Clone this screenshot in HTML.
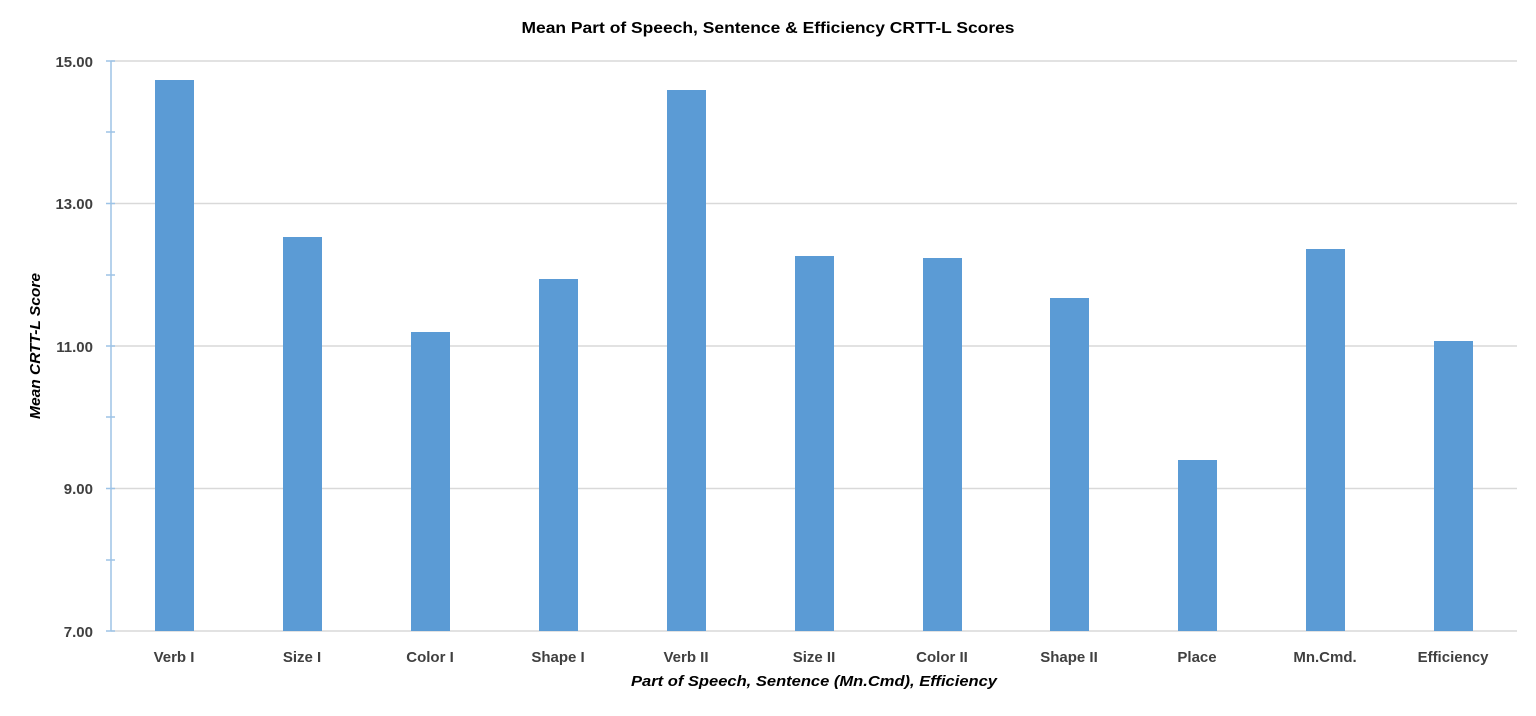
<!DOCTYPE html>
<html><head><meta charset="utf-8"><style>
html,body{margin:0;padding:0;background:#fff;}
svg{display:block;font-family:"Liberation Sans",sans-serif;}
</style></head><body>
<svg width="1536" height="716" viewBox="0 0 1536 716" xmlns="http://www.w3.org/2000/svg">
<text x="768" y="33" text-anchor="middle" font-size="16" font-weight="bold" fill="#000" textLength="493" lengthAdjust="spacingAndGlyphs">Mean Part of Speech, Sentence &amp; Efficiency CRTT-L Scores</text>
<g stroke="#d9d9d9" stroke-width="1.5">
<line x1="111" y1="61" x2="1517" y2="61"/>
<line x1="111" y1="203.5" x2="1517" y2="203.5"/>
<line x1="111" y1="346" x2="1517" y2="346"/>
<line x1="111" y1="488.5" x2="1517" y2="488.5"/>
<line x1="111" y1="631" x2="1517" y2="631"/>
</g>
<g fill="#5b9bd5">
<rect x="155" y="80" width="39" height="551"/>
<rect x="283" y="237" width="39" height="394"/>
<rect x="411" y="332" width="39" height="299"/>
<rect x="539" y="279" width="39" height="352"/>
<rect x="667" y="90" width="39" height="541"/>
<rect x="795" y="256" width="39" height="375"/>
<rect x="923" y="258" width="39" height="373"/>
<rect x="1050" y="298" width="39" height="333"/>
<rect x="1178" y="460" width="39" height="171"/>
<rect x="1306" y="249" width="39" height="382"/>
<rect x="1434" y="341" width="39" height="290"/>
</g>
<g stroke="#9dc3e6" stroke-width="1.5">
<line x1="111" y1="61" x2="111" y2="631"/>
<line x1="106" y1="61" x2="115" y2="61"/>
<line x1="106" y1="132" x2="115" y2="132"/>
<line x1="106" y1="203.5" x2="115" y2="203.5"/>
<line x1="106" y1="275" x2="115" y2="275"/>
<line x1="106" y1="346" x2="115" y2="346"/>
<line x1="106" y1="417" x2="115" y2="417"/>
<line x1="106" y1="488.5" x2="115" y2="488.5"/>
<line x1="106" y1="560" x2="115" y2="560"/>
<line x1="106" y1="631" x2="115" y2="631"/>
</g>
<g font-size="15" font-weight="bold" fill="#404040" text-anchor="end">
<text x="93" y="67">15.00</text>
<text x="93" y="209">13.00</text>
<text x="93" y="352">11.00</text>
<text x="93" y="494">9.00</text>
<text x="93" y="637">7.00</text>
</g>
<g font-size="15" font-weight="bold" fill="#404040" text-anchor="middle">
<text x="174" y="662">Verb I</text>
<text x="302" y="662">Size I</text>
<text x="430" y="662">Color I</text>
<text x="558" y="662">Shape I</text>
<text x="686" y="662">Verb II</text>
<text x="814" y="662">Size II</text>
<text x="942" y="662">Color II</text>
<text x="1069" y="662">Shape II</text>
<text x="1197" y="662">Place</text>
<text x="1325" y="662">Mn.Cmd.</text>
<text x="1453" y="662">Efficiency</text>
</g>
<text x="814" y="686" text-anchor="middle" font-size="15" font-weight="bold" font-style="italic" fill="#000" textLength="366" lengthAdjust="spacingAndGlyphs">Part of Speech, Sentence (Mn.Cmd), Efficiency</text>
<text transform="translate(40,346) rotate(-90)" text-anchor="middle" font-size="15" font-weight="bold" font-style="italic" fill="#000" textLength="146" lengthAdjust="spacingAndGlyphs">Mean CRTT-L Score</text>
</svg>
</body></html>
